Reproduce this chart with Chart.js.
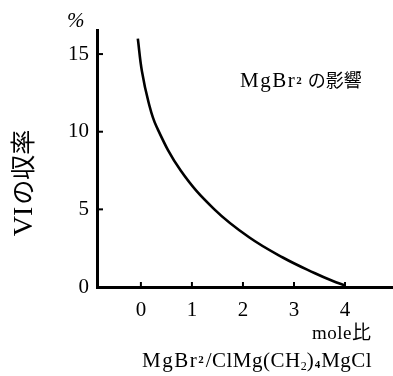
<!DOCTYPE html>
<html>
<head>
<meta charset="utf-8">
<script src="https://cdn.jsdelivr.net/npm/chart.js@4/dist/chart.umd.min.js"></script>
<style>
  html, body { margin: 0; padding: 0; background: #fff; }
</style>
</head>
<body>
<canvas id="chart" width="393" height="376"></canvas>
<script>
// mole ratio MgBr2 / ClMg(CH2)4MgCl vs yield of VI (%)
const moleRatio = [-0.06, 0.02, 0.15, 0.31, 0.78, 1.44, 2.12, 2.78, 3.4, 3.75, 4.0];
const yieldVI = [16.0, 13.9, 11.9, 10.3, 7.5, 5.0, 3.2, 1.9, 0.9, 0.4, 0.1];
const xTicks = [0, 1, 2, 3, 4];
const yTicks = [0, 5, 10, 15];

const SERIF = "'Liberation Serif', 'DejaVu Serif', serif";
const CJK = "'Noto Sans CJK JP', sans-serif";

// draw a row of text pieces (font, text, dy) starting at x
function drawRuns(ctx, x, y, runs) {
  runs.forEach(r => {
    ctx.font = r.font;
    ctx.letterSpacing = (r.ls || 0) + "px";
    ctx.fillText(r.text, x, y + (r.dy || 0));
    x += ctx.measureText(r.text).width + (r.gap || 0);
  });
  ctx.letterSpacing = "0px";
}

const decor = {
  id: "decor",
  afterDraw(chart) {
    const ctx = chart.ctx;
    const xs = chart.scales.x;
    const ys = chart.scales.y;
    ctx.save();
    ctx.strokeStyle = "#000";
    ctx.fillStyle = "#000";

    // inward tick marks
    ctx.lineWidth = 2;
    yTicks.slice(1).forEach(v => {
      const py = ys.getPixelForValue(v);
      ctx.beginPath();
      ctx.moveTo(xs.left, py);
      ctx.lineTo(xs.left + 6, py);
      ctx.stroke();
    });
    xTicks.forEach(v => {
      const px = xs.getPixelForValue(v);
      ctx.beginPath();
      ctx.moveTo(px, ys.bottom);
      ctx.lineTo(px, ys.bottom - 5);
      ctx.stroke();
    });

    ctx.textBaseline = "alphabetic";
    ctx.textAlign = "left";

    // % unit
    ctx.font = "italic 21px " + SERIF;
    ctx.fillText("%", 67, 27);

    // annotation
    drawRuns(ctx, 240, 87, [
      { font: "21px " + SERIF, text: "MgBr", ls: 1.5 },
      { font: "bold 11px " + SERIF, text: "2", dy: -3, gap: 6 },
      { font: "18px " + CJK, text: "の影響" }
    ]);

    // x unit
    drawRuns(ctx, 312, 339, [
      { font: "19px " + SERIF, text: "mole", ls: 0.5 },
      { font: "19px " + CJK, text: "比" }
    ]);

    // x title
    drawRuns(ctx, 142, 367, [
      { font: "21px " + SERIF, text: "MgBr", ls: 1.5 },
      { font: "bold 11px " + SERIF, text: "2", dy: -4, gap: 2 },
      { font: "21px " + SERIF, text: "/ClMg(CH", ls: 0.5 },
      { font: "12px " + SERIF, text: "2", dy: 3 },
      { font: "21px " + SERIF, text: ")", gap: 1 },
      { font: "bold 11px " + SERIF, text: "4", dy: 1, gap: 1 },
      { font: "21px " + SERIF, text: "MgCl", ls: 0.5 }
    ]);

    // y title, reading bottom to top
    ctx.translate(32, 183);
    ctx.rotate(-Math.PI / 2);
    const parts = [
      { font: "28px " + SERIF, text: "VI", gap: 2 },
      { font: "25px " + CJK, text: "の収率" }
    ];
    let total = 2;
    parts.forEach(p => { ctx.font = p.font; total += ctx.measureText(p.text).width; });
    drawRuns(ctx, -total / 2, 0, parts);

    ctx.restore();
  }
};

new Chart(document.getElementById("chart"), {
  type: "scatter",
  data: {
    datasets: [{
      data: moleRatio.map((x, i) => ({ x, y: yieldVI[i] })),
      showLine: true,
      borderColor: "#000",
      borderWidth: 2.6,
      pointRadius: 0,
      tension: 0.4,
      fill: false
    }]
  },
  options: {
    responsive: false,
    animation: false,
    layout: { padding: { left: 0, right: 0, top: 30, bottom: 0 } },
    plugins: { legend: { display: false }, tooltip: { enabled: false } },
    scales: {
      x: {
        type: "linear",
        min: -0.86,
        max: 4.94,
        afterBuildTicks: s => { s.ticks = xTicks.map(v => ({ value: v })); },
        afterFit: s => { s.height = 89; },
        grid: { display: false, drawTicks: false },
        border: { display: true, color: "#000", width: 3 },
        ticks: {
          padding: 11,
          color: "#000",
          font: { family: SERIF, size: 21 }
        }
      },
      y: {
        type: "linear",
        min: 0,
        max: 16.55,
        afterBuildTicks: s => { s.ticks = yTicks.map(v => ({ value: v })); },
        afterFit: s => { s.width = 97; },
        grid: { display: false, drawTicks: false },
        border: { display: true, color: "#000", width: 3 },
        ticks: {
          padding: 8,
          color: "#000",
          font: { family: SERIF, size: 21 }
        }
      }
    }
  },
  plugins: [decor]
});
</script>
</body>
</html>
